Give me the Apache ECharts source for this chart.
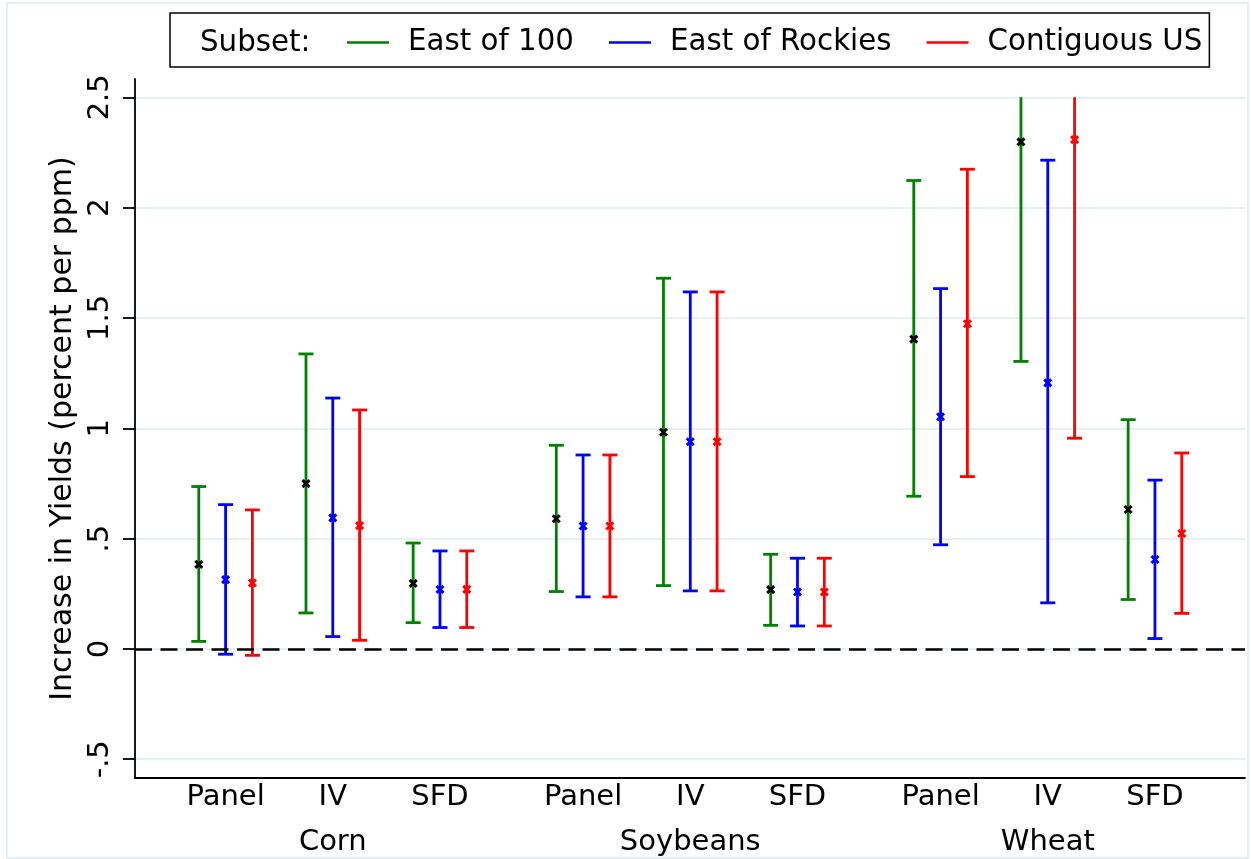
<!DOCTYPE html>
<html><head><meta charset="utf-8">
<script src="https://cdn.jsdelivr.net/npm/echarts@6/dist/echarts.min.js"></script>
<style>html,body{margin:0;padding:0;background:#fff}#chart{width:1251px;height:859px}</style>
</head><body><div id="chart"></div>
<script>
// ---------------- data ----------------
const crops = ['Corn', 'Soybeans', 'Wheat'];
const methods = ['Panel', 'IV', 'SFD'];
const subsets = ['East of 100', 'East of Rockies', 'Contiguous US'];
const yTicks = [-0.5, 0, 0.5, 1, 1.5, 2, 2.5];
const yAxisTitle = 'Increase in Yields (percent per ppm)';
const legendTitle = 'Subset:';

// order: Corn Panel, Corn IV, Corn SFD, Soybeans Panel, Soybeans IV, Soybeans SFD, Wheat Panel, Wheat IV, Wheat SFD
const east100Mean  = [0.383, 0.749, 0.297, 0.590, 0.982, 0.269, 1.404, 2.298, 0.632];
const east100Low   = [0.034, 0.163, 0.119, 0.260, 0.287, 0.107, 0.692, 1.303, 0.224];
const east100High  = [0.736, 1.337, 0.480, 0.923, 1.680, 0.429, 2.123, 3.293, 1.039];

const rockiesMean  = [0.314, 0.594, 0.270, 0.557, 0.939, 0.258, 1.052, 1.206, 0.405];
const rockiesLow   = [-0.024, 0.056, 0.097, 0.236, 0.263, 0.104, 0.472, 0.209, 0.047];
const rockiesHigh  = [0.654, 1.137, 0.444, 0.879, 1.618, 0.411, 1.633, 2.215, 0.765];

const contigMean   = [0.299, 0.559, 0.270, 0.557, 0.939, 0.258, 1.474, 2.308, 0.523];
const contigLow    = [-0.029, 0.039, 0.097, 0.236, 0.263, 0.104, 0.781, 0.955, 0.161];
const contigHigh   = [0.630, 1.083, 0.444, 0.879, 1.618, 0.411, 2.174, 3.661, 0.888];

// ---------------- layout / style ----------------
const SUBSET_STEP = 1, METHOD_STEP = 4, CROP_STEP = 13.34;
const X_MIN = -3.38, X_MAX = 38.04;
const Y_MIN = -0.585, Y_MAX = 2.583, Y_CLIP = 2.5;
const FONT = 'DejaVu Sans';
const colors = ['#008000', '#0000ff', '#ff0000'];
const markColors = ['#000000', '#0000ff', '#ff0000'];
const seriesSets = [
  [east100Mean, east100Low, east100High],
  [rockiesMean, rockiesLow, rockiesHigh],
  [contigMean, contigLow, contigHigh]
];

function xPos(i, s) {
  const c = Math.floor(i / methods.length), m = i % methods.length;
  return c * CROP_STEP + m * METHOD_STEP + (s - 1) * SUBSET_STEP;
}
const methodCenters = [], methodLabels = [];
crops.forEach((_, c) => methods.forEach((name, m) => {
  methodCenters.push(c * CROP_STEP + m * METHOD_STEP);
  methodLabels.push(name);
}));
const cropCenters = crops.map((_, c) => c * CROP_STEP + METHOD_STEP);

function labelAt(centers, labels) {
  return v => {
    const i = centers.findIndex(c => Math.abs(c - v) < 1e-3);
    return i < 0 ? '' : labels[i];
  };
}
function yFmt(v) {
  if (Math.abs(v) < 1e-9) return '0';
  return String(v).replace(/^(-?)0\./, '$1.');
}

function renderBar(s) {
  return function (params, api) {
    const x = api.value(0), lo = api.value(1), hi = api.value(2), mu = api.value(3);
    const top = Math.min(hi, Y_CLIP);
    const pLo = api.coord([x, lo]), pTop = api.coord([x, top]), pMu = api.coord([x, mu]);
    const st = { stroke: colors[s], lineWidth: 2.8 };
    const cw = 7.5, mk = 3.5;
    const ch = [
      { type: 'line', shape: { x1: pLo[0], y1: pLo[1], x2: pTop[0], y2: pTop[1] }, style: st },
      { type: 'line', shape: { x1: pLo[0] - cw, y1: pLo[1], x2: pLo[0] + cw, y2: pLo[1] }, style: st }
    ];
    if (hi <= Y_CLIP) {
      ch.push({ type: 'line', shape: { x1: pTop[0] - cw, y1: pTop[1], x2: pTop[0] + cw, y2: pTop[1] }, style: st });
    }
    const ms = { stroke: markColors[s], lineWidth: 3 };
    ch.push({ type: 'line', shape: { x1: pMu[0] - mk, y1: pMu[1] - mk, x2: pMu[0] + mk, y2: pMu[1] + mk }, style: ms });
    ch.push({ type: 'line', shape: { x1: pMu[0] - mk, y1: pMu[1] + mk, x2: pMu[0] + mk, y2: pMu[1] - mk }, style: ms });
    return { type: 'group', children: ch };
  };
}

const series = subsets.map((name, s) => {
  const [mean, low, high] = seriesSets[s];
  return {
    type: 'custom',
    name: name,
    renderItem: renderBar(s),
    itemStyle: { color: colors[s] },
    encode: { x: 0, y: [1, 2, 3] },
    data: mean.map((mu, i) => [xPos(i, s), low[i], high[i], mu]),
    clip: false,
    z: 3
  };
});
series.push({
  type: 'line', name: 'zero', data: [], silent: true, z: 2,
  markLine: {
    symbol: 'none', silent: true, label: { show: false },
    lineStyle: { type: [17, 8.5], color: '#000', width: 2.5 },
    data: [{ yAxis: 0 }]
  }
});

const chart = echarts.init(document.getElementById('chart'), null, { renderer: 'canvas' });
chart.setOption({
  animation: false,
  backgroundColor: '#fff',
  textStyle: { fontFamily: FONT },
  grid: { left: 135, right: 6, top: 79, bottom: 81 },
  legend: {
    data: subsets, left: 170, top: 13, orient: 'horizontal',
    icon: 'rect', itemWidth: 42, itemHeight: 2.6, itemGap: 35,
    padding: [15, 7, 10, 177],
    borderColor: '#000', borderWidth: 1.5, backgroundColor: '#fff',
    selectedMode: false,
    textStyle: { fontSize: 29.3, color: '#000', fontFamily: FONT, padding: [0, 0, 0, 14] }
  },
  xAxis: [{
    type: 'value', min: X_MIN, max: X_MAX, position: 'bottom',
    axisLine: { show: true, onZero: false, lineStyle: { color: '#000', width: 1.8 } },
    axisTick: { show: false }, splitLine: { show: false },
    axisLabel: {
      customValues: methodCenters, formatter: labelAt(methodCenters, methodLabels),
      margin: 5, fontSize: 29, color: '#000', fontFamily: FONT
    }
  }, {
    type: 'value', min: X_MIN, max: X_MAX, position: 'bottom', offset: 45,
    axisLine: { show: false, onZero: false }, axisTick: { show: false }, splitLine: { show: false },
    axisLabel: {
      customValues: cropCenters, formatter: labelAt(cropCenters, crops),
      margin: 5, fontSize: 29, color: '#000', fontFamily: FONT
    }
  }],
  yAxis: {
    type: 'value', min: Y_MIN, max: Y_MAX,
    axisLine: { show: true, onZero: false, lineStyle: { color: '#000', width: 1.8 } },
    axisTick: { show: true, customValues: yTicks, length: 12, lineStyle: { color: '#000', width: 1.8 } },
    axisLabel: {
      customValues: yTicks, rotate: 90, margin: 20, fontSize: 29, color: '#000',
      fontFamily: FONT, formatter: yFmt
    },
    splitLine: { show: true, lineStyle: { color: '#e8eff2', width: 2 } },
    name: yAxisTitle, nameLocation: 'middle', nameRotate: 90, nameGap: 51.5,
    nameTextStyle: { fontSize: 30, color: '#000', fontFamily: FONT }
  },
  graphic: [
    { type: 'rect', z: -10, shape: { x: 7, y: 3, width: 1241, height: 855 },
      style: { fill: 'none', stroke: '#e8eff2', lineWidth: 2 } },
    { type: 'text', z: 100, x: 200, y: 43.5,
      style: { text: legendTitle, fontSize: 29.3, fontFamily: FONT, fill: '#000', verticalAlign: 'middle' } }
  ],
  series: series
});
</script></body></html>
